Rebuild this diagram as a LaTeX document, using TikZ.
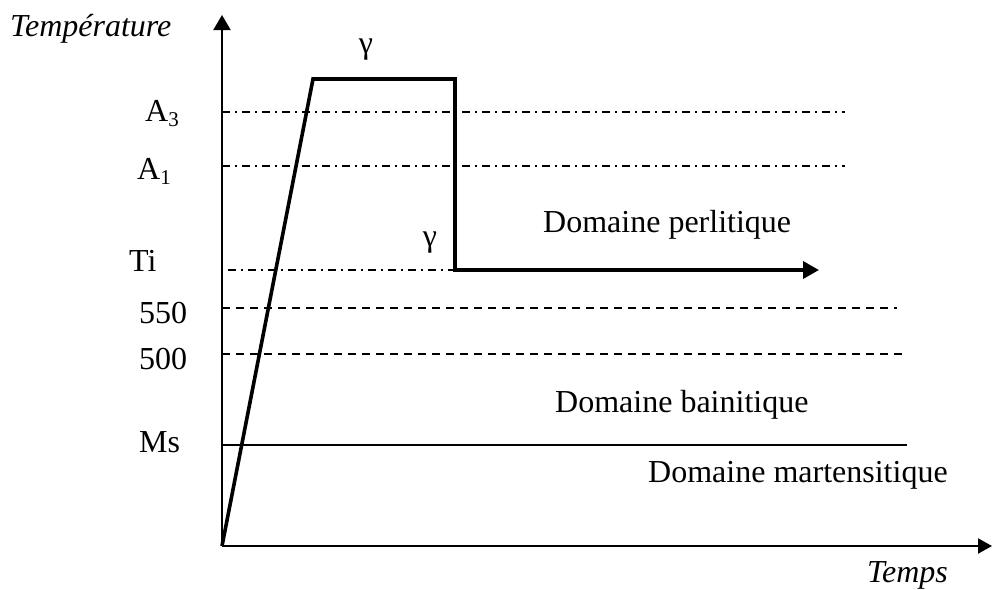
\documentclass[tikz,border=0pt]{standalone}
\usepackage{fontspec}
\setmainfont{Liberation Serif}
\usetikzlibrary{arrows.meta}
\begin{document}
\begin{tikzpicture}[x=1pt,y=-1pt,
  lbl/.style={inner sep=0pt,anchor=base,font=\fontsize{32}{36}\selectfont},
  axisline/.style={line width=2pt},
  pathline/.style={line width=3.6pt,line join=miter},
  dashdotline/.style={line width=1.6pt,dash pattern=on 8pt off 5pt on 2pt off 5pt},
  dashline/.style={line width=1.6pt,dash pattern=on 8pt off 6pt},
  tri/.style={-{Triangle[length=15pt,width=17pt]}}]
\useasboundingbox (0,0) rectangle (992,589);
% key points
\coordinate (O) at (222,546);
\coordinate (ytop) at (222,15);
\coordinate (xend) at (992,546);
\coordinate (P1) at (313,79);
\coordinate (P2) at (455,79);
\coordinate (P3) at (455,270);
\coordinate (P4) at (819,270);
% guide lines
\coordinate (a3s) at (222,112); \coordinate (a3e) at (845,112);
\coordinate (a1s) at (222,166); \coordinate (a1e) at (845,166);
\coordinate (tis) at (228,270);
\coordinate (c550s) at (222,308); \coordinate (c550e) at (897,308);
\coordinate (c500s) at (222,354); \coordinate (c500e) at (902,354);
\coordinate (mss) at (222,445); \coordinate (mse) at (907,445);
\draw[dashdotline] (a3s) -- (a3e);
\draw[dashdotline] (a1s) -- (a1e);
\draw[dashdotline] (tis) -- (P3);
\draw[dashline] (c550s) -- (c550e);
\draw[dashline] (c500s) -- (c500e);
\draw[line width=1.8pt] (mss) -- (mse);
% axes
\draw[axisline,tri] (O) -- (ytop);
\draw[axisline,-{Triangle[length=14pt,width=15pt]}] (O) -- (xend);
% thermal path
\draw[pathline] (O) -- (P1) -- (P2) -- (P3) -- (806,270);
\draw[line width=3.6pt,-{Triangle[length=16pt,width=17pt]}] (800,270) -- (P4);
% labels
\node[lbl,anchor=base west] (temp) at (10,36) {\itshape Température};
\node[lbl,anchor=base west] (tps) at (867,582) {\itshape Temps};
\node[lbl,anchor=base west] (a3) at (145,121) {A\raisebox{-0.17em}{\fontsize{21}{21}\selectfont 3}};
\node[lbl,anchor=base west] (a1) at (137,179) {A\raisebox{-0.17em}{\fontsize{21}{21}\selectfont 1}};
\node[lbl,anchor=base west] (ti) at (129,271) {Ti};
\node[lbl,anchor=base west] (t550) at (139,323) {550};
\node[lbl,anchor=base west] (t500) at (139,369) {500};
\node[lbl,anchor=base west] (ms) at (139,452) {Ms};
\node[lbl] (g1) at (366,53) {γ};
\node[lbl] (g2) at (430,246) {γ};
\node[lbl,anchor=base west] (perl) at (543,232) {Domaine perlitique};
\node[lbl,anchor=base west] (bain) at (555,412) {Domaine bainitique};
\node[lbl,anchor=base west] (mart) at (648,482) {Domaine martensitique};
\end{tikzpicture}
\end{document}
